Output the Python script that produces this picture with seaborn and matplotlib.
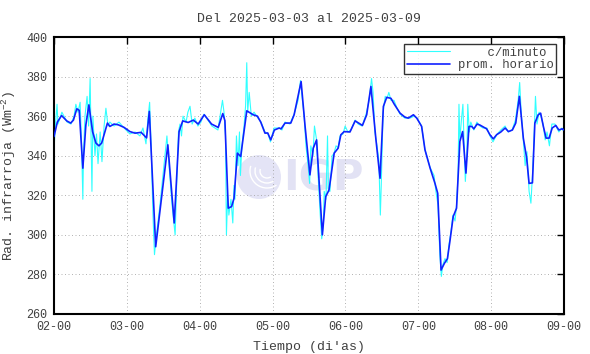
import matplotlib
matplotlib.use("Agg")
import matplotlib.pyplot as plt
import seaborn as sns
import pandas as pd
from matplotlib.patches import Ellipse, Arc

# ---------------- data ----------------
title = "Del 2025-03-03 al 2025-03-09"
xlabel = "Tiempo (di'as)"
ylabel = "Rad. infrarroja (Wm$^{\\mathregular{-2}}$)"
day_labels = ["02-00", "03-00", "04-00", "05-00", "06-00", "07-00", "08-00", "09-00"]
y_ticks = [260, 280, 300, 320, 340, 360, 380, 400]

# hourly mean (hours since 02-00)
hourly_h = [0, 1.1, 2.5, 4.2, 5.5, 6.4, 7.5, 8.3, 9.5, 10.5, 11.5, 12.7, 13.8, 14.8, 15.7,
            16.5, 17.6, 18.4, 19.8, 21.2, 23.1, 25.0, 26.7, 28.7, 30.5, 31.4, 33.5, 37.5,
            39.6, 41.2, 42.4, 44.2, 45.9, 47.5, 49.5, 51.9, 54.1, 55.6, 56.3, 57.4, 58.5,
            59.3, 60.4, 61.5, 63.5, 65.6, 67.0, 68.1, 69.5, 70.4, 71.4, 72.6, 74.2, 74.8,
            76.1, 78.0, 79.1, 81.4, 82.7, 84.3, 85.4, 86.5, 88.4, 89.5, 90.6, 92.3, 93.6,
            94.5, 95.6, 97.5, 99.2, 101.6, 103.0, 104.4, 106.0, 107.4, 108.5, 109.6, 111.0,
            112.1, 114.0, 115.6, 116.7, 118.4, 119.5, 121.1, 122.2, 123.9, 125.5, 126.4,
            127.5, 128.6, 129.6, 130.4, 131.5, 132.6, 133.7, 134.6, 135.7, 136.7, 137.6,
            138.3, 139.4, 140.3, 141.1, 142.5, 143.6, 144.7, 145.8, 147.2, 148.6, 149.7,
            151.0, 152.1, 153.3, 154.6, 155.7, 156.5, 157.6, 158.4, 159.5, 160.3, 161.2,
            162.1, 163.1, 164.1, 165.3, 166.3, 167.4, 168.0]
hourly_v = [349.7, 357, 360.3, 357.6, 356.5, 358, 363.7, 363, 333.7, 355.6, 365.7, 352.2,
            346.4, 345, 346.4, 350.6, 356.5, 354.8, 356, 355.6, 354.3, 352.2, 351.4, 351.8,
            349, 362.4, 294, 345.5, 306, 352.2, 357.6, 356.8, 358, 356, 360.7, 356, 354.3,
            361.3, 357.7, 313.5, 314.3, 318.5, 341.3, 339.6, 362.7, 360.7, 360, 357, 351.4,
            351.5, 348, 353, 354, 353.6, 356.5, 356.5, 360.7, 377.5, 355, 330.3, 343.8, 348,
            300, 319.3, 322.7, 341.3, 343.8, 350.6, 352.2, 352, 357.6, 355.3, 360.7, 375,
            348.9, 328.6, 364.9, 369.5, 369, 366, 361.5, 359.5, 359, 360.7, 359, 354.8, 343,
            333.7, 326, 321, 282.2, 285.6, 288, 296.6, 309.2, 313.5, 347.2, 352.2, 331.2,
            354.8, 354.8, 353.6, 356, 355.5, 354.8, 353.6, 350.6, 348.5, 350.6, 352, 354,
            352.2, 353, 356.5, 370, 348.9, 338.8, 326, 326.3, 356.5, 360.7, 361.5, 354.8,
            348.9, 348.9, 354, 355.3, 353, 353.6, 353]

# per-minute data (main excursions)
minute_h = [0, 0.3, 1.0, 1.3, 2.6, 4.3, 5.6, 6.6, 7.2, 7.9, 8.6, 9.1, 9.5, 9.7, 10.2, 10.9,
            11.4, 11.9, 12.2, 12.5, 12.8, 13.5, 14.0, 14.5, 15.2, 15.8, 16.5, 17.1, 17.8,
            18.4, 19.8, 21.4, 23.1, 25.0, 26.7, 28.3, 29.3, 30.3, 30.9, 31.5, 32.0, 32.6,
            33.1, 33.6, 34.9, 36.2, 37.2, 37.9, 38.9, 39.9, 40.5, 41.0, 41.5, 42.0, 42.5,
            43.5, 44.1, 44.8, 45.5, 46.4, 47.4, 48.4, 49.4, 50.7, 52.0, 54.0, 54.8, 55.5,
            56.0, 56.5, 56.8, 57.2, 57.6, 58.3, 58.9, 59.3, 59.6, 60.1, 60.6, 61.1, 61.4,
            61.9, 62.6, 63.1, 63.5, 63.8, 64.3, 65.0, 65.9, 67.2, 68.2, 69.5, 70.5, 71.3,
            72.5, 74.1, 75.1, 76.1, 77.7, 79.1, 80.4, 81.2, 81.7, 82.4, 83.0, 83.7, 84.2,
            84.6, 85.3, 85.8, 86.5, 87.0, 87.7, 88.2, 88.7, 89.0, 89.6, 90.1, 90.4, 90.9,
            91.6, 92.2, 92.9, 93.6, 94.2, 95.2, 95.9, 96.8, 97.8, 99.2, 100.2, 101.5, 102.8,
            103.8, 104.6, 105.1, 105.7, 106.4, 107.0, 107.5, 107.8, 108.4, 109.1, 109.7,
            110.3, 111.0, 112.0, 113.0, 114.0, 115.6, 117.3, 118.6, 119.6, 121.1, 122.2,
            123.9, 125.2, 125.8, 126.5, 127.1, 127.6, 128.1, 128.8, 129.5, 130.1, 130.8,
            131.4, 132.1, 132.6, 133.1, 133.4, 133.7, 134.2, 134.7, 135.2, 135.5, 136.0,
            136.3, 136.8, 137.3, 138.3, 139.3, 140.3, 141.3, 142.6, 143.6, 144.6, 146.0,
            147.2, 148.6, 149.6, 150.9, 152.0, 152.9, 153.4, 153.9, 154.5, 155.2, 155.8,
            156.5, 157.1, 157.6, 158.1, 158.6, 159.1, 159.8, 160.4, 161.1, 161.8, 162.4,
            163.2, 164.0, 165.0, 166.3, 167.3, 168.0]
minute_v = [342, 352, 366, 356, 362, 357, 356, 360, 366, 362, 367, 345, 318, 340, 360, 370,
            355, 379, 350, 322, 360, 340, 351, 336, 352, 337, 355, 364, 355, 357, 355, 357,
            354, 351, 352, 350, 354, 346, 358, 367, 345, 310, 290, 298, 315, 335, 350, 335,
            315, 300, 330, 352, 356, 350, 360, 357, 362, 365, 356, 359, 355, 357, 361, 358,
            355, 353, 361, 368, 362, 350, 300, 320, 310, 318, 306, 325, 318, 350, 335, 352,
            330, 345, 355, 365, 387, 362, 372, 360, 362, 359, 357, 352, 351, 347, 354, 354,
            353, 357, 356, 361, 368, 378, 370, 360, 345, 335, 326, 345, 340, 355, 348, 330,
            310, 298, 305, 322, 318, 350, 322, 322, 340, 341, 345, 344, 350, 351, 355, 352,
            353, 358, 356, 355, 361, 368, 379, 372, 352, 345, 338, 310, 325, 362, 370, 369,
            372, 368, 368, 364, 361, 359, 359, 360, 359, 355, 343, 334, 330, 322, 315, 290,
            279, 285, 288, 286, 295, 302, 310, 307, 315, 330, 366, 348, 358, 366, 340, 327,
            340, 366, 352, 357, 353, 357, 355, 354, 354, 350, 347, 351, 353, 355, 352, 353,
            358, 368, 377, 362, 350, 335, 342, 322, 316, 330, 348, 370, 356, 362, 360, 356,
            348, 352, 345, 356, 356, 352, 354, 352]

series_labels = ["    c/minuto", "prom. horario"]

# ---------------- style ----------------
sns.set_style("white")
mono = ["Liberation Mono", "DejaVu Sans Mono"]
plt.rcParams["font.family"] = mono
txt_color = "#404040"

fig = plt.figure(figsize=(5.9, 3.54), dpi=100)
AXW, AXH = 510, 277
ax = fig.add_axes([54 / 590, 1 - 314 / 354, AXW / 590, AXH / 354])

# watermark (IGP logo, faint)
cx, cy = (259 - 54) / AXW, 1 - (177 - 37) / AXH
r = 22
ax.add_patch(Ellipse((cx, cy), 2 * r / AXW, 2 * r / AXH, transform=ax.transAxes,
                     facecolor="#e4e4f6", edgecolor="none", zorder=0.5))
for rr in (7, 12, 17):
    ax.add_patch(Arc((cx + 8 / AXW, cy + 6 / AXH), 2 * rr / AXW, 2 * rr / AXH,
                     theta1=150, theta2=290, transform=ax.transAxes,
                     color="white", lw=1.0, zorder=0.6))
ax.text((323 - 54) / AXW, 1 - (178 - 37) / AXH, "IGP", transform=ax.transAxes,
        fontsize=30, fontweight="bold", family="DejaVu Sans", color="#e2e2f4",
        ha="center", va="center", zorder=0.5)

df_min = pd.DataFrame({"h": minute_h, "v": minute_v})
df_hr = pd.DataFrame({"h": hourly_h, "v": hourly_v})
sns.lineplot(data=df_min, x="h", y="v", ax=ax, color="#30ffff", lw=0.8,
             estimator=None, sort=False, label=series_labels[0], zorder=2)
sns.lineplot(data=df_hr, x="h", y="v", ax=ax, color="#1020ff", lw=1.2,
             estimator=None, sort=False, label=series_labels[1], zorder=3)

ax.set_xlim(0, 168)
ax.set_ylim(260, 400)
ax.set_xticks([24 * i for i in range(len(day_labels))])
ax.set_xticklabels(day_labels)
ax.set_yticks(y_ticks)
ax.set_yticklabels([str(t) for t in y_ticks])
ax.grid(True, linestyle=(0, (1.2, 3)), color="#a8a8a8", lw=0.6)
ax.set_axisbelow(True)
for s in ax.spines.values():
    s.set_color("black")
    s.set_linewidth(1.5)
ax.tick_params(direction="in", length=5, width=1.0, top=True, right=True,
               colors="black", labelcolor=txt_color, labelsize=8.5, pad=5)

ax.set_xlabel(xlabel, fontsize=9.5, color=txt_color, labelpad=6)
ax.set_ylabel(ylabel, fontsize=9.5, color=txt_color, labelpad=6)
ax.set_title(title, fontsize=9.5, color=txt_color, pad=11)

leg = ax.legend(loc="upper right", bbox_to_anchor=(0.99, 0.985), frameon=True,
                fancybox=False, edgecolor="black", fontsize=8.8, handlelength=3.5,
                borderpad=0.25, labelspacing=0.05, handletextpad=0.6,
                borderaxespad=0.2)
leg.get_frame().set_linewidth(1.0)
for t in leg.get_texts():
    t.set_color(txt_color)

fig.savefig("out.png", dpi=100, facecolor="white")
